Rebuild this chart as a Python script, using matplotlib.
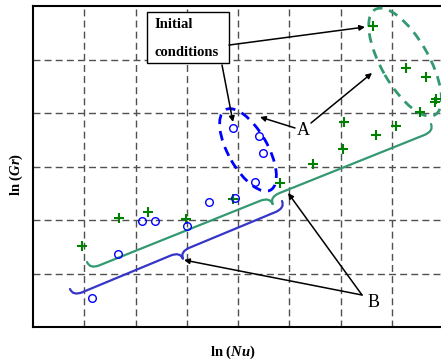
import numpy as np
import matplotlib
matplotlib.use("Agg")
import matplotlib.pyplot as plt
from matplotlib.patches import Ellipse, Rectangle, PathPatch
from matplotlib.path import Path

plt.rcParams['lines.scale_dashes'] = False
plt.rcParams['mathtext.fontset'] = 'custom'
plt.rcParams['mathtext.it'] = 'Liberation Serif:bold:italic'
plt.rcParams['mathtext.rm'] = 'Liberation Serif:bold'

# ---- data (ln Nu, ln Gr) ----
nu_plus = [0.96, 1.68, 2.24, 2.98, 3.90, 4.82, 5.46, 6.05, 6.07, 6.69, 7.08, 6.64, 7.27, 7.66, 7.86, 7.84, 7.55]
gr_plus = [1.51, 2.04, 2.15, 2.02, 2.39, 2.69, 3.04, 3.32, 3.84, 3.58, 3.76, 5.63, 4.84, 4.67, 4.26, 4.21, 4.02]

nu_circ = [1.15, 1.66, 2.13, 2.38, 3.00, 3.43, 3.94, 4.33, 3.90, 4.41, 4.49]
gr_circ = [0.54, 1.36, 1.98, 1.98, 1.89, 2.34, 2.41, 2.71, 3.72, 3.57, 3.25]

x_ticks = [1, 2, 3, 4, 5, 6, 7]
y_ticks = [1, 2, 3, 4, 5]

GREEN_PT = '#008000'
GREEN_LN = '#339970'
BLUE_PT = '#0000ff'
BLUE_LN = '#3535c8'

fig = plt.figure(figsize=(4.41, 3.60), dpi=100)
ax = fig.add_axes([33/441, 33/360, 410/441, 321/360])
ax.set_xlim(0, 8)
ax.set_ylim(0, 6)
ax.set_xticks(x_ticks)
ax.set_yticks(y_ticks)
ax.tick_params(length=0, labelbottom=False, labelleft=False)
ax.grid(True, linestyle=(0, (5, 3)), color='#505050', linewidth=1.0)
for s in ['left', 'bottom', 'top']:
    ax.spines[s].set_linewidth(1.5)
ax.spines['right'].set_visible(False)

ax.plot(nu_plus, gr_plus, '+', color=GREEN_PT, markersize=7.5, mew=1.5, zorder=5)
ax.plot(nu_circ, gr_circ, 'o', mfc='none', mec=BLUE_PT, markersize=5.5, mew=1.0, zorder=5)

# ---- dashed ellipses ----
ax.add_patch(Ellipse((4.195, 3.31), 1.74, 0.76, angle=-59, fill=False,
                     edgecolor=BLUE_PT, lw=2.0, linestyle=(0, (7, 5)), zorder=4))
ax.add_patch(Ellipse((7.26, 4.95), 2.29, 0.92, angle=-59, fill=False,
                     edgecolor=GREEN_LN, lw=2.0, linestyle=(0, (7, 5)), zorder=4))

# ---- braces ----
K = 53.5 / 51.25


def brace(p1, p2, frac, h, r, color, lw):
    a = np.array([p1[0], p1[1] * K])
    b = np.array([p2[0], p2[1] * K])
    d = b - a
    L = np.hypot(*d)
    u = d / L
    n = np.array([u[1], -u[0]])
    m = frac * L
    P = lambda s, t: a + u * s + n * t
    verts = [a, P(0, h), P(r, h), P(m - r, h), P(m, h), P(m, 2 * h),
             P(m, h), P(m + r, h), P(L - r, h), P(L, h), b]
    codes = [Path.MOVETO, Path.CURVE3, Path.CURVE3, Path.LINETO, Path.CURVE3, Path.CURVE3,
             Path.CURVE3, Path.CURVE3, Path.LINETO, Path.CURVE3, Path.CURVE3]
    verts = np.array(verts)
    verts[:, 1] /= K
    ax.add_patch(PathPatch(Path(verts, codes), fill=False, edgecolor=color, lw=lw, zorder=3,
                           capstyle='round', joinstyle='round'))


brace((1.054, 1.215), (7.766, 3.794), 0.523, 0.15, 0.2, GREEN_LN, 1.6)
brace((0.722, 0.710), (4.859, 2.355), 0.505, 0.15, 0.2, BLUE_LN, 1.6)

# ---- text box ----
ax.add_patch(Rectangle((2.224, 4.935), 1.60, 0.953, facecolor='white', edgecolor='black',
                       lw=1.0, zorder=6))
ax.text(2.38, 5.645, 'Initial', family='Liberation Serif', weight='bold', fontsize=10.5,
        ha='left', va='center', zorder=7)
ax.text(2.38, 5.14, 'conditions', family='Liberation Serif', weight='bold', fontsize=10.5,
        ha='left', va='center', zorder=7)

ax.text(5.27, 3.68, 'A', family='Liberation Serif', fontsize=13, ha='center', va='center', zorder=7)
ax.text(6.65, 0.45, 'B', family='Liberation Serif', fontsize=13, ha='center', va='center', zorder=7)

arrows = [((3.824, 5.27), (6.478, 5.607)),
          ((3.688, 4.897), (3.902, 3.832)),
          ((5.112, 3.72), (4.429, 3.925)),
          ((5.424, 3.813), (6.615, 4.748)),
          ((6.42, 0.598), (4.976, 2.505)),
          ((6.42, 0.598), (2.946, 1.252))]
for start, end in arrows:
    ax.annotate('', xy=end, xytext=start,
                arrowprops=dict(arrowstyle='-|>', color='black', lw=1.1, mutation_scale=8,
                                shrinkA=0, shrinkB=0), zorder=7)

fig.text(233/441, 1 - 352/360, r'ln ($\mathit{Nu}$)', family='Liberation Serif', weight='bold',
         fontsize=10.5, ha='center', va='center')
fig.text(16/441, 1 - 174/360, r'ln ($\mathit{Gr}$)', family='Liberation Serif', weight='bold',
         fontsize=10.5, ha='center', va='center', rotation=90)

fig.savefig('out.png', dpi=100)
